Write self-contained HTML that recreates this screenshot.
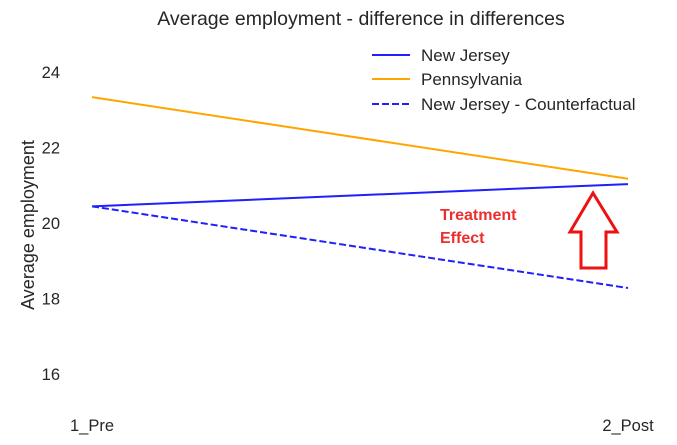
<!DOCTYPE html>
<html><head><meta charset="utf-8"><style>
body{margin:0;background:#fff;}
svg text{font-family:"Liberation Sans",Arial,sans-serif;}
</style></head><body>
<svg id="chart" width="677" height="440">
<text x="361" y="25" text-anchor="middle" font-size="19.5" fill="#262626">Average employment - difference in differences</text>
<text transform="translate(34,225) rotate(-90)" text-anchor="middle" font-size="18" fill="#262626">Average employment</text>
<g id="yticks"></g><g id="xticks"></g><g id="lines"></g>
<g>
<line x1="372" y1="55" x2="410" y2="55" stroke="#1f1fff" stroke-width="2"/>
<text x="421" y="61" font-size="17" fill="#262626">New Jersey</text>
<line x1="372" y1="79" x2="410" y2="79" stroke="#ffa500" stroke-width="2"/>
<text x="421" y="85" font-size="17" fill="#262626">Pennsylvania</text>
<line x1="372" y1="104" x2="410" y2="104" stroke="#1f1fff" stroke-width="2" stroke-dasharray="7,3"/>
<text x="421" y="110" font-size="17" fill="#262626">New Jersey - Counterfactual</text>
</g>
<text x="440" y="220" font-size="16" font-weight="bold" fill="#ee2d2d">Treatment</text>
<text x="440" y="243" font-size="16" font-weight="bold" fill="#ee2d2d">Effect</text>
<polygon points="593,193 617,232 606,232 606,268 581,268 581,232 570,232" fill="none" stroke="#ee1111" stroke-width="3"/>
</svg>
<script>
const categories=["1_Pre","2_Post"];
const njValues=[20.44,21.03];
const paValues=[23.33,21.17];
const cfValues=[20.44,18.28];
const yTicks=[16,18,20,22,24];
const ns="http://www.w3.org/2000/svg";
function xs(i){return 92+i*(628-92)/(categories.length-1);}
function ys(v){return 223-(v-20)*37.8;}
const yt=document.getElementById('yticks');
yTicks.forEach(t=>{const e=document.createElementNS(ns,'text');
e.setAttribute('x',60);e.setAttribute('y',ys(t)+6);e.setAttribute('text-anchor','end');
e.setAttribute('font-size','16.5');e.setAttribute('fill','#262626');e.textContent=t;


yt.appendChild(e);});
const xt=document.getElementById('xticks');
categories.forEach((c,i)=>{const e=document.createElementNS(ns,'text');
e.setAttribute('x',xs(i));e.setAttribute('y',431);e.setAttribute('text-anchor','middle');
e.setAttribute('font-size','16.5');e.setAttribute('fill','#262626');e.textContent=c;


xt.appendChild(e);});
const lg=document.getElementById('lines');
function line(vals,color,dash,name){const p=document.createElementNS(ns,'polyline');
p.setAttribute('points',vals.map((v,i)=>xs(i)+','+ys(v)).join(' '));
p.setAttribute('fill','none');p.setAttribute('stroke',color);p.setAttribute('stroke-width','2');
if(dash)p.setAttribute('stroke-dasharray',dash);


lg.appendChild(p);}
line(paValues,'#ffa500',null,'pennsylvania-line');
line(cfValues,'#1f1fff','7,3','counterfactual-line');
line(njValues,'#1f1fff',null,'new-jersey-line');
</script>
</body></html>
